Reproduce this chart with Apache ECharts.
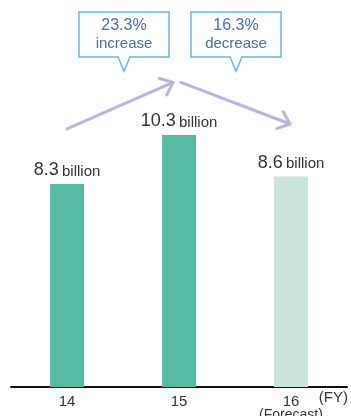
<!DOCTYPE html>
<html>
<head>
<meta charset="utf-8">
<script src="https://cdn.jsdelivr.net/npm/echarts@6/dist/echarts.min.js"></script>
<style>
  html, body { margin: 0; padding: 0; background: #fff; }
  #chart { width: 351px; height: 416px; }
</style>
</head>
<body>
<div id="chart"></div>
<script>
// Fiscal years and values (billions)
var years = ['14', '15', '16'];
var values = [8.3, 10.3, 8.6];
var forecastYear = '16';
// Year-on-year change callouts
var changeLabels = [['23.3%', 'increase'], ['16.3%', 'decrease']];

var FONT = '"Liberation Sans", Arial, sans-serif';
var GREEN = '#56bca2';
var PALE = '#c8e6dc';
var ARROW = '#b9b3de';
var CALLOUT = '#6cb4e0';

var chart = echarts.init(document.getElementById('chart'), null, { renderer: 'canvas' });

var barData = values.map(function (v, i) {
  return {
    value: v,
    itemStyle: { color: years[i] === forecastYear ? PALE : GREEN }
  };
});

chart.setOption({
  animation: false,
  textStyle: { fontFamily: FONT },
  grid: { left: 11, right: 4, top: 20, bottom: 29, containLabel: false, outerBoundsMode: 'none' },
  xAxis: {
    type: 'category',
    data: years,
    axisLine: { lineStyle: { color: '#111', width: 2 } },
    axisTick: { show: false },
    axisLabel: {
      margin: 8,
      formatter: function (v) {
        return v === forecastYear ? '{a|' + v + '}\n{f|(Forecast)}' : '{a|' + v + '}';
      },
      rich: {
        a: { fontSize: 15, lineHeight: 14, color: '#333', fontFamily: FONT },
        f: { fontSize: 14, lineHeight: 12, color: '#333', fontFamily: FONT }
      }
    }
  },
  yAxis: {
    type: 'value', min: 0, max: 15, show: false,
    splitLine: { show: false }
  },
  series: [{
    type: 'bar',
    data: barData,
    barWidth: 34,
    label: {
      show: true,
      position: 'top',
      distance: 5,
      formatter: function (p) { return '{n|' + p.value + '} {u|billion}'; },
      rich: {
        n: { fontSize: 18, color: '#333', verticalAlign: 'bottom', lineHeight: 20, fontFamily: FONT },
        u: { fontSize: 15, color: '#333', verticalAlign: 'bottom', lineHeight: 20, fontFamily: FONT }
      }
    }
  }]
});

// Annotations placed from the axis scales
function px(cat, val) {
  return chart.convertToPixel({ xAxisIndex: 0, yAxisIndex: 0 }, [cat, val]);
}

function arrow(from, to) {
  var dx = to[0] - from[0], dy = to[1] - from[1];
  var ang = Math.atan2(-dy, -dx);
  var len = 14, spread = 40 * Math.PI / 180;
  var a1 = [to[0] + len * Math.cos(ang + spread), to[1] + len * Math.sin(ang + spread)];
  var a2 = [to[0] + len * Math.cos(ang - spread), to[1] + len * Math.sin(ang - spread)];
  var style = { stroke: ARROW, lineWidth: 3, lineCap: 'round', lineJoin: 'round', fill: null };
  return [
    { type: 'polyline', shape: { points: [from, to] }, style: style, silent: true },
    { type: 'polyline', shape: { points: [a1, to, a2] }, style: style, silent: true }
  ];
}

function callout(cx, top, lines) {
  var w = 90, h = 45, pw = 6, ph = 14;
  var l = cx - w / 2, r = cx + w / 2, b = top + h;
  var pts = [[l, top], [r, top], [r, b], [cx + pw, b], [cx, b + ph], [cx - pw, b], [l, b]];
  return [
    { type: 'polygon', shape: { points: pts }, style: { fill: '#fff', stroke: CALLOUT, lineWidth: 1.5 }, silent: true },
    {
      type: 'text', x: cx, y: top + h / 2 + 0.5, silent: true,
      style: {
        text: '{p|' + lines[0] + '}\n{w|' + lines[1] + '}',
        align: 'center', verticalAlign: 'middle',
        rich: {
          p: { fill: '#4a6fa0', fontSize: 16, lineHeight: 18, fontFamily: FONT },
          w: { fill: '#4a6fa0', fontSize: 15, lineHeight: 18, fontFamily: FONT }
        }
      }
    }
  ];
}

var c0 = px(0, 0)[0], c1 = px(1, 0)[0], c2 = px(2, 0)[0];
var peakY = px(1, 12.45)[1];
var g = [];
g = g.concat(arrow([c0, px(0, 10.55)[1]], [c1 - 6, peakY]));
g = g.concat(arrow([c1 + 2, peakY], [c2 - 1, px(2, 10.75)[1]]));
g = g.concat(callout((c0 + c1) / 2 + 1, 12, changeLabels[0]));
g = g.concat(callout((c1 + c2) / 2 + 1, 12, changeLabels[1]));
var base = px(0, 0)[1];
g.push({
  type: 'text', x: 348, y: base + 11, silent: true,
  style: { text: '(FY)', fill: '#333', font: '15px ' + FONT, align: 'right', verticalAlign: 'middle' }
});

chart.setOption({ graphic: g });
</script>
</body>
</html>
